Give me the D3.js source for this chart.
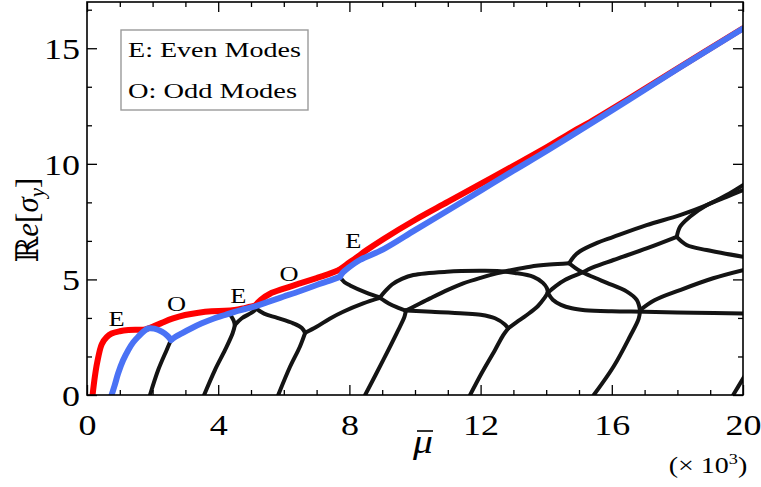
<!DOCTYPE html>
<html>
<head>
<meta charset="utf-8">
<script src="https://cdn.jsdelivr.net/npm/d3@7"></script>
<style>
  body { margin: 0; background: #fff; }
  svg { display: block; }
  text { font-family: "Liberation Serif", "DejaVu Serif", serif; fill: #000; }
</style>
</head>
<body>
<svg id="chart" width="761" height="487"></svg>
<script>
// ---- data: growth rate Re[sigma_y] against mu-bar (x 10^3) ----
const xTicksMajor = [0, 4, 8, 12, 16, 20];
const yTicksMajor = [0, 5, 10, 15];

// leading even mode (drawn in red), split at its kinks
const evenBranch = [
  [[0.17,0],[0.24,0.8],[0.31,1.4],[0.45,2.2],[0.6,2.5],[0.75,2.66],[1.0,2.76],[1.26,2.81],[1.77,2.84],[2.0,2.95],[2.28,3.12],[2.6,3.3],[2.99,3.46],[3.4,3.56],[3.8,3.62],[4.2,3.64],[4.5,3.68],[4.8,3.76],[5.12,3.86]],
  [[5.12,3.86],[5.3,4.12],[5.58,4.38],[6.0,4.6],[6.49,4.83],[7.0,5.06],[7.4,5.25],[7.7,5.42]],
  [[7.7,5.42],[7.9,5.63],[8.2,5.93],[8.53,6.27],[9.03,6.74],[10.0,7.57],[11.0,8.35],[12.0,9.13],[13.0,9.91],[13.86,10.59],[14.7,11.3],[15.4,11.86],[16.5,12.8],[18.0,14.12],[20,15.86]]
];

// leading odd mode (drawn in blue), split at its cusps
const oddBranch = [
  [[0.75,0],[0.85,0.45],[0.95,0.94],[1.1,1.5],[1.26,1.95],[1.41,2.28],[1.56,2.52],[1.72,2.74],[1.87,2.88],[2.05,2.87],[2.28,2.74],[2.45,2.56],[2.56,2.38]],
  [[2.56,2.38],[2.7,2.52],[2.89,2.67],[3.2,2.9],[3.5,3.1],[3.85,3.3],[4.21,3.46],[4.5,3.6],[4.82,3.72],[5.12,3.83],[5.5,4.02],[5.98,4.25],[6.5,4.5],[7.0,4.76],[7.4,4.95],[7.71,5.11]],
  [[7.71,5.11],[7.8,5.3],[7.95,5.48],[8.32,5.84],[9.03,6.3],[10.0,7.13],[11.0,7.98],[12.0,8.84],[13.0,9.7],[14.06,10.6],[15.4,11.78],[16.5,12.75],[18.0,14.1],[20,15.85]]
];

// higher even/odd branches (drawn in black)
const higherBranches = [
  [[1.92,0],[2.17,1.08],[2.43,1.95],[2.56,2.38]],
  [[3.57,0],[3.9,1.08],[4.21,1.95],[4.44,2.67],[4.51,3.03]],
  [[4.51,3.03],[4.47,3.22],[4.38,3.45]],
  [[4.51,3.03],[4.72,3.32],[5.02,3.56],[5.15,3.72]],
  [[5.12,3.78],[5.4,3.52],[5.8,3.34],[6.29,3.10],[6.55,2.9],[6.65,2.69]],
  [[5.83,0],[6.19,1.22],[6.49,2.09],[6.65,2.69]],
  [[6.65,2.69],[7.0,2.95],[7.4,3.3],[7.81,3.60],[8.42,3.96],[8.93,4.2]],
  [[7.71,5.11],[7.85,4.88],[8.02,4.74],[8.53,4.42],[8.93,4.22]],
  [[8.93,4.22],[9.1,4.5],[9.3,4.78],[9.6,5.02],[9.95,5.19],[10.97,5.33],[11.98,5.37],[12.5,5.36],[13.05,5.28],[13.61,5.11],[13.9,4.85],[14.02,4.62],[14.05,4.42]],
  [[8.93,4.2],[9.2,3.96],[9.44,3.8],[9.72,3.65]],
  [[8.48,0],[9.03,1.51],[9.44,2.67],[9.68,3.39],[9.72,3.65]],
  [[9.72,3.65],[10.5,3.6],[11.5,3.53],[12.0,3.47],[12.44,3.32],[12.74,3.05],[12.84,2.88]],
  [[11.68,0],[12.03,0.94],[12.44,1.95],[12.69,2.59],[12.84,2.88]],
  [[12.84,2.88],[13.1,3.15],[13.41,3.46],[13.75,3.85],[13.95,4.2],[14.05,4.42]],
  [[9.72,3.65],[10.0,3.85],[10.46,4.18],[11.0,4.55],[11.47,4.83],[12.0,5.07],[12.49,5.26],[13.0,5.42],[13.51,5.55],[14.1,5.64],[14.7,5.7]],
  [[14.05,4.42],[14.3,4.72],[14.57,4.97],[15.03,5.26],[15.5,5.56],[16.05,5.84],[17.06,6.34],[17.98,6.84]],
  [[14.05,4.42],[14.2,4.12],[14.45,3.9],[14.78,3.75],[15.18,3.67],[16.0,3.62],[17.0,3.6],[18.5,3.56],[20,3.53]],
  [[14.7,5.7],[14.85,6.0],[15.03,6.22],[15.5,6.55],[16.05,6.84],[17.06,7.35],[18.08,7.78],[18.89,8.21],[19.5,8.65],[20,9.08]],
  [[14.7,5.7],[15.03,5.36],[15.5,5.06],[15.85,4.85],[16.46,4.47],[16.76,4.11],[16.86,3.67]],
  [[15.45,0],[16.05,1.22],[16.55,2.52],[16.82,3.3],[16.86,3.67]],
  [[16.86,3.67],[17.3,4.1],[18.08,4.54],[19.09,5.05],[20,5.4]],
  [[17.98,6.84],[18.08,7.28],[18.38,7.71],[18.89,8.21],[19.5,8.57],[20,8.86]],
  [[17.98,6.84],[18.28,6.49],[18.89,6.27],[20,5.98]],
  [[19.7,0],[19.85,0.35],[20.1,0.95]]
];

// branch labels along the leading modes
const modeLabels = [
  { text: "E", x: 0.9,  y: 3.31 },
  { text: "O", x: 2.73, y: 3.96 },
  { text: "E", x: 4.61, y: 4.32 },
  { text: "O", x: 6.16, y: 5.27 },
  { text: "E", x: 8.12, y: 6.70 }
];
const legendLines = ["E: Even Modes", "O: Odd Modes"];

// ---- layout ----
const svg = d3.select("#chart");
const x = d3.scaleLinear().domain([0, 20]).range([87, 743]);
const y = d3.scaleLinear().domain([0, 17]).range([395, 2]);
const stretch = 1.2;

svg.append("defs").append("clipPath").attr("id", "plotClip")
  .append("rect").attr("x", 87).attr("y", 2).attr("width", 656).attr("height", 393);

const line = d3.line()
  .x(d => x(d[0])).y(d => y(d[1]))
  .curve(d3.curveCatmullRom.alpha(0.5));

const plot = svg.append("g").attr("clip-path", "url(#plotClip)");

plot.selectAll("path.higher").data(higherBranches).join("path")
  .attr("class", "higher")
  .attr("d", line)
  .attr("fill", "none").attr("stroke", "#141414").attr("stroke-width", 4)
  .attr("stroke-linecap", "round").attr("stroke-linejoin", "round");

plot.selectAll("path.even").data(evenBranch).join("path")
  .attr("class", "even")
  .attr("d", line)
  .attr("fill", "none").attr("stroke", "#ff0000").attr("stroke-width", 6)
  .attr("stroke-linecap", "round").attr("stroke-linejoin", "round");

plot.selectAll("path.odd").data(oddBranch).join("path")
  .attr("class", "odd")
  .attr("d", line)
  .attr("fill", "none").attr("stroke", "#4a72f5").attr("stroke-width", 6)
  .attr("stroke-linecap", "round").attr("stroke-linejoin", "round");

// ---- axes with inward ticks on all four sides ----
const xMinor = d3.range(0, 21).filter(v => v % 4 !== 0);
const yMinor = d3.range(1, 11).map(k => k * 5 / 3).filter(v => Math.abs(v / 5 - Math.round(v / 5)) > 1e-6);

function styleAxis(g) {
  g.select(".domain").remove();
  g.selectAll(".tick line").attr("stroke", "#000").attr("stroke-width", 1.3);
}

svg.append("g").attr("transform", "translate(0,395)")
  .call(d3.axisBottom(x).tickValues(xMinor).tickSize(-5).tickFormat(""))
  .call(styleAxis);
svg.append("g").attr("transform", "translate(0,2)")
  .call(d3.axisTop(x).tickValues(xMinor).tickSize(-5).tickFormat(""))
  .call(styleAxis);
svg.append("g").attr("transform", "translate(0,2)")
  .call(d3.axisTop(x).tickValues(xTicksMajor).tickSize(-10).tickFormat(""))
  .call(styleAxis);
svg.append("g").attr("transform", "translate(87,0)")
  .call(d3.axisLeft(y).tickValues(yMinor).tickSize(-5).tickFormat(""))
  .call(styleAxis);
svg.append("g").attr("transform", "translate(743,0)")
  .call(d3.axisRight(y).tickValues(yMinor).tickSize(-5).tickFormat(""))
  .call(styleAxis);
svg.append("g").attr("transform", "translate(743,0)")
  .call(d3.axisRight(y).tickValues(yTicksMajor).tickSize(-10).tickFormat(""))
  .call(styleAxis);

const xAxis = svg.append("g").attr("transform", "translate(0,395)")
  .call(d3.axisBottom(x).tickValues(xTicksMajor).tickSize(-10).tickFormat(d3.format("d")))
  .call(styleAxis);
xAxis.selectAll(".tick text")
  .attr("y", 40).attr("dy", 0)
  .attr("transform", `scale(${stretch},1)`)
  .style("font-size", "30px").attr("font-family", null);

const yAxis = svg.append("g").attr("transform", "translate(87,0)")
  .call(d3.axisLeft(y).tickValues(yTicksMajor).tickSize(-10).tickFormat(d3.format("d")))
  .call(styleAxis);
yAxis.selectAll(".tick text")
  .attr("x", -7 / stretch).attr("dy", "0.34em")
  .attr("transform", `scale(${stretch},1)`)
  .style("font-size", "30px").attr("font-family", null);

// frame
svg.append("rect").attr("x", 87).attr("y", 2).attr("width", 656).attr("height", 393)
  .attr("fill", "none").attr("stroke", "#000").attr("stroke-width", 1.6);

// ---- branch labels ----
svg.selectAll("text.mode").data(modeLabels).join("text")
  .attr("class", "mode")
  .attr("transform", d => `translate(${x(d.x)},${y(d.y)}) scale(${stretch},1)`)
  .attr("text-anchor", "middle").attr("dy", "0.35em")
  .style("font-size", "22px")
  .text(d => d.text);

// ---- legend ----
svg.append("rect").attr("x", 121).attr("y", 30).attr("width", 187).attr("height", 80)
  .attr("fill", "#fff").attr("stroke", "#9a9a9a").attr("stroke-width", 1.4);
svg.selectAll("text.legend").data(legendLines).join("text")
  .attr("class", "legend")
  .attr("x", 128).attr("y", (d, i) => 57 + i * 41)
  .attr("textLength", (d, i) => i === 0 ? 173 : 169)
  .attr("lengthAdjust", "spacingAndGlyphs")
  .style("font-size", "22px")
  .text(d => d);

// ---- axis titles ----
const yTitle = svg.append("text")
  .attr("transform", "translate(38,220) rotate(-90)")
  .attr("text-anchor", "middle")
  .style("font-size", "31px");
yTitle.append("tspan").text("ℝ");
yTitle.append("tspan").style("font-style", "italic").text("e");
yTitle.append("tspan").text("[");
yTitle.append("tspan").style("font-style", "italic").text("σ");
yTitle.append("tspan").style("font-style", "italic").style("font-size", "21px").attr("dy", 6).text("y");
yTitle.append("tspan").attr("dy", -6).text("]");

// mu with an overbar
const muTitle = svg.append("g").attr("transform", "translate(423,453)");
muTitle.append("text")
  .attr("transform", `scale(${stretch},1)`)
  .attr("text-anchor", "middle")
  .style("font-size", "33px").style("font-style", "italic")
  .text("μ");
muTitle.append("line")
  .attr("x1", -6).attr("x2", 10).attr("y1", -22).attr("y2", -22)
  .attr("stroke", "#000").attr("stroke-width", 1.6);

const scaleNote = svg.append("text")
  .attr("transform", `translate(708,473) scale(1.22,1)`)
  .attr("text-anchor", "middle")
  .style("font-size", "23px");
scaleNote.append("tspan").text("(× 10");
scaleNote.append("tspan").style("font-size", "15px").attr("dy", -9).text("3");
scaleNote.append("tspan").attr("dy", 9).text(")");
</script>
</body>
</html>
